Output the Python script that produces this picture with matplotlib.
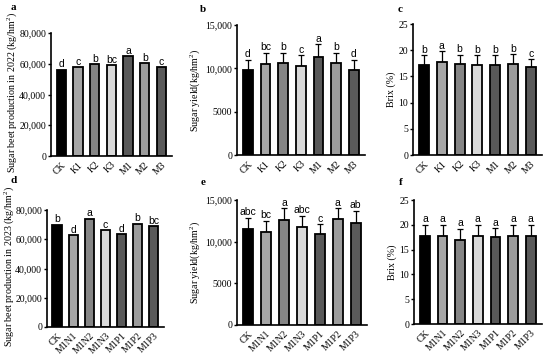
import matplotlib
matplotlib.use("Agg")
import matplotlib.pyplot as plt
from matplotlib.ticker import FuncFormatter

cats_top = ["CK", "K1", "K2", "K3", "M1", "M2", "M3"]
cats_bot = ["CK", "M1N1", "M1N2", "M1N3", "M1P1", "M1P2", "M1P3"]

colors = ["#000000", "#a6a6a6", "#858585", "#d9d9d9", "#595959", "#9c9c9c", "#5a5a5a"]

a_vals = [56000, 57800, 59800, 59200, 65000, 60300, 57800]
a_lets = ["d", "c", "b", "bc", "a", "b", "c"]

b_vals = [9800, 10500, 10600, 10300, 11350, 10600, 9800]
b_err = [1200, 1300, 1200, 1200, 1450, 1200, 1200]
b_lets = ["d", "bc", "b", "c", "a", "b", "d"]

c_vals = [17.1, 17.8, 17.35, 17.2, 17.1, 17.4, 16.7]
c_err = [1.9, 2.0, 1.8, 1.8, 1.9, 1.8, 1.6]
c_lets = ["b", "a", "b", "b", "b", "b", "c"]

d_vals = [70000, 62700, 74000, 66300, 63300, 70600, 69000]
d_lets = ["b", "d", "a", "c", "d", "b", "bc"]

e_vals = [11500, 11200, 12600, 11800, 10950, 12700, 12300]
e_err = [1400, 1300, 1400, 1300, 1150, 1300, 1400]
e_lets = ["abc", "bc", "a", "abc", "c", "a", "ab"]

f_vals = [17.8, 17.8, 17.0, 17.8, 17.6, 17.8, 17.8]
f_err = [2.2, 2.2, 2.2, 2.2, 1.7, 2.2, 2.2]
f_lets = ["a", "a", "a", "a", "a", "a", "a"]

serif = "Liberation Serif"
sans = "Liberation Sans"
plt.rcParams["mathtext.fontset"] = "custom"
plt.rcParams["mathtext.rm"] = serif
plt.rcParams["mathtext.it"] = serif + ":italic"

fig = plt.figure(figsize=(5.5, 3.62), dpi=100)
W, H = 550.0, 362.0

def mkax(l, r, t, b):
    return fig.add_axes([l / W, 1 - b / H, (r - l) / W, (b - t) / H])

def comma(v, p):
    v = int(round(v))
    if v >= 10000:
        return f"{v:,}"
    return str(v)

def panel(ax, cats, vals, err, lets, ymax, step, ylabel, fmt, lab_off, ylfs, lcoords=None):
    x = list(range(len(cats)))
    ax.bar(x, vals, width=0.56, color=colors, edgecolor="black", linewidth=1.3, zorder=2)
    if err is not None:
        ax.errorbar(x, vals, yerr=[[0] * len(err), err], fmt="none", ecolor="black",
                    elinewidth=0.9, capsize=2.5, capthick=0.9, zorder=1)
        tops = [v + e for v, e in zip(vals, err)]
    else:
        tops = vals
    for xi, t, l in zip(x, tops, lets):
        ax.text(xi, t + lab_off, l, ha="center", va="bottom", fontsize=7.5,
                family=sans, clip_on=False)
    ax.set_xlim(-0.62, 6.64)
    ax.set_ylim(0, ymax)
    ax.set_yticks([i * step for i in range(int(round(ymax / step)) + 1)])
    if fmt:
        ax.yaxis.set_major_formatter(FuncFormatter(comma))
    ax.set_xticks(x)
    ax.set_xticklabels(cats, rotation=45, ha="right", rotation_mode="anchor",
                       family=serif, fontsize=7)
    for lab in ax.get_yticklabels():
        lab.set_family(serif)
        lab.set_fontsize(7)
    ax.spines["top"].set_visible(False)
    ax.spines["right"].set_visible(False)
    ax.spines["left"].set_linewidth(1.2)
    ax.spines["bottom"].set_linewidth(1.2)
    ax.tick_params(axis="y", width=1.0, length=2.5, pad=1)
    ax.tick_params(axis="x", length=0, pad=3)
    ax.set_ylabel(ylabel, family=serif, fontsize=ylfs, labelpad=2)
    if lcoords is not None:
        ax.yaxis.set_label_coords(*lcoords)

axa = mkax(51, 172, 33, 156)
panel(axa, cats_top, a_vals, None, a_lets, 80000, 20000,
      "Sugar beet production in 2022 (kg/hm$^2$)", True, 300, 7.2, (-0.265, 0.52))
axb = mkax(237, 365, 25, 155)
panel(axb, cats_top, b_vals, b_err, b_lets, 15000, 5000,
      "Sugar yield(kg/hm$^2$)", True, 50, 7.2)
axc = mkax(413, 542, 24, 155)
panel(axc, cats_top, c_vals, c_err, c_lets, 25, 5, "Brix (%)", False, 0.1, 7.2)
axd = mkax(47, 164, 210, 327)
panel(axd, cats_bot, d_vals, None, d_lets, 80000, 20000,
      "Sugar beet production in 2023 (kg/hm$^2$)", True, 300, 7.2, (-0.265, 0.52))
axe = mkax(237, 367, 200, 325)
panel(axe, cats_bot, e_vals, e_err, e_lets, 15000, 5000,
      "Sugar yield(kg/hm$^2$)", True, 50, 7.2)
axf = mkax(414, 542, 200, 324)
panel(axf, cats_bot, f_vals, f_err, f_lets, 25, 5, "Brix (%)", False, 0.1, 7.2)

for lab, (px, py) in zip("abcdef", [(13, 7), (203, 9), (400, 9), (14, 180), (203, 182), (401, 182)]):
    fig.text(px / W, 1 - py / H, lab, family=serif, fontweight="bold", fontsize=8,
             ha="center", va="center")

fig.savefig("out.png", dpi=100, facecolor="white")
